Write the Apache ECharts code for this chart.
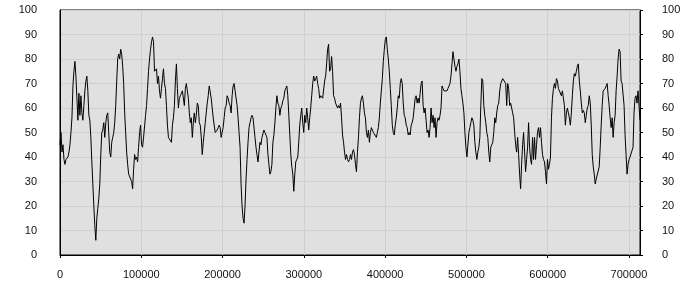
<!DOCTYPE html>
<html>
<head>
<meta charset="utf-8">
<script src="https://cdn.jsdelivr.net/npm/echarts@6/dist/echarts.min.js"></script>
<style>html,body{margin:0;padding:0;background:#fff}#c{width:700px;height:300px}</style>
</head>
<body>
<div id="c"></div>
<script>
// Sampling interval of the series along x
const xStep = 1224;
// Tick values
const yTicks = [0, 10, 20, 30, 40, 50, 60, 70, 80, 90, 100];
const xTicks = [0, 100000, 200000, 300000, 400000, 500000, 600000, 700000];
// Series values, segment by segment
const seg1 = [45,50,42,45,39,37,39,39,40,42,45,50,56,69,75,79,73,64,55,66,57,65,58,55,61,67,71,73,67,57,55,48,38,29,20,12,6,15,19,23,29,41,50,51,54,48,54,57,58,50,42,40,46,48,50,54,61,71,80,82,80,84,82,77,70,58,50,42,37,33,33,33,30,27,35,41,39,40,38,44,50,53,45,44,48,48,57,61,68,75,80,84,87,89,87,75];
const seg2 = [75,76,70,73,67,64,68,72,76,70,68,61,53,48,48,48,46,53,56,61,71,78,68,60,64,65,66,67,67,61,68,70,67,64,58,54,56,48,54,58,54,57,62,61,54,53,48,41,46,50,54,58,62,65,69,69,64,60,56,53,50,50,51,52,53,52,48,50,52,56,60,61,65,64,62,61,58,65,69,70,67,67,61,56,50,44,29,20,15,13,20,31,39,46,52,54,56,57];
const seg3 = [56,56,48,44,41,38,42,46,45,48,48,51,50,50,48,41,37,33,34,37,46,49,54,60,65,62,61,57,60,61,63,64,67,67,69,65,57,49,41,36,33,26,33,38,39,40,46,53,57,60,54,50,57,54,60,56,51,56,60,65,70,73,71,72,73,70,68,64,65,65,64,64,71,73,78,84,86,75,76,81,75,65,64,62,62,60,61,60,62,56,49,46,42,39,41,39,38,39];
const seg4 = [41,39,42,43,41,37,34,42,48,56,62,64,65,62,58,56,50,48,51,46,50,52,51,50,50,50,48,50,52,56,62,67,72,79,84,88,89,84,80,75,68,61,53,50,49,53,56,60,65,64,70,72,70,62,57,56,53,52,49,50,49,53,54,56,60,64,65,62,64,62,66,70,71,61,58,60,55,50,51,48,52,60,54,57,52,56,48,54,56,55,57,60,69,68,67,67,67,67];
const seg5 = [68,69,70,73,78,83,80,77,75,77,78,80,75,68,65,62,58,50,44,40,40,50,52,54,56,55,53,46,42,39,42,44,48,61,72,71,61,57,54,50,48,42,38,44,45,46,50,56,54,58,61,62,67,70,71,72,72,72,70,61,70,68,61,62,60,58,56,50,45,42,48,41,33,27,37,45,50,42,34,39,44,54,44,39,37,48,39,48,39,45,50,52,48,52,46,41,39,38];
const seg6 = [34,29,39,35,37,40,56,64,68,70,68,72,71,68,67,67,65,67,64,61,53,58,60,58,56,53,58,65,71,74,73,75,77,78,71,67,62,58,59,58,54,57,60,61,65,62,53,41,36,33,29,31,31,31,36,44,53,61,67,67,68,69,70,65,61,56,52,56,48,54,57,67,73,80,84,83,71,70,70,61,49,41,33,37,39,40,40,40,44,58,64,65,62,67,61,55];

const values = [].concat(seg1, seg2, seg3, seg4, seg5, seg6);
const seriesData = values.map((v, i) => [i * xStep, v]);
const xMax = (values.length - 1) * xStep;

const labelFont = { fontFamily: 'Liberation Sans', fontSize: 11, color: '#111' };

const chart = echarts.init(document.getElementById('c'), null, { renderer: 'canvas' });
chart.setOption({
  animation: false,
  grid: {
    left: 60, right: 60, top: 10, bottom: 45,
    show: true, backgroundColor: '#e0e0e0', borderColor: '#000', borderWidth: 1,
    containLabel: false
  },
  xAxis: {
    type: 'value', min: xTicks[0], max: xMax, interval: xTicks[1] - xTicks[0],
    axisLine: { show: true, lineStyle: { color: '#000', width: 1 } },
    axisTick: { show: true, length: 3, lineStyle: { color: '#000' } },
    axisLabel: Object.assign({ margin: 14, showMaxLabel: false, formatter: v => String(v) }, labelFont),
    splitLine: { show: true, lineStyle: { color: '#cfcfcf', width: 1 } }
  },
  yAxis: [
    {
      type: 'value', min: yTicks[0], max: yTicks[yTicks.length - 1], interval: yTicks[1] - yTicks[0],
      position: 'left',
      axisLine: { show: true, lineStyle: { color: '#000', width: 1 } },
      axisTick: { show: false },
      axisLabel: Object.assign({ margin: 23 }, labelFont),
      splitLine: { show: true, lineStyle: { color: '#cfcfcf', width: 1 } }
    },
    {
      type: 'value', min: yTicks[0], max: yTicks[yTicks.length - 1], interval: yTicks[1] - yTicks[0],
      position: 'right',
      axisLine: { show: true, lineStyle: { color: '#000', width: 1 } },
      axisTick: { show: true, length: 3, lineStyle: { color: '#000' } },
      axisLabel: Object.assign({ margin: 22, align: 'left' }, labelFont),
      splitLine: { show: false }
    }
  ],
  series: [{
    type: 'line', data: seriesData, yAxisIndex: 0,
    showSymbol: false, symbol: 'none',
    lineStyle: { color: '#000', width: 1 },
    emphasis: { disabled: true }
  }]
});
</script>
</body>
</html>
